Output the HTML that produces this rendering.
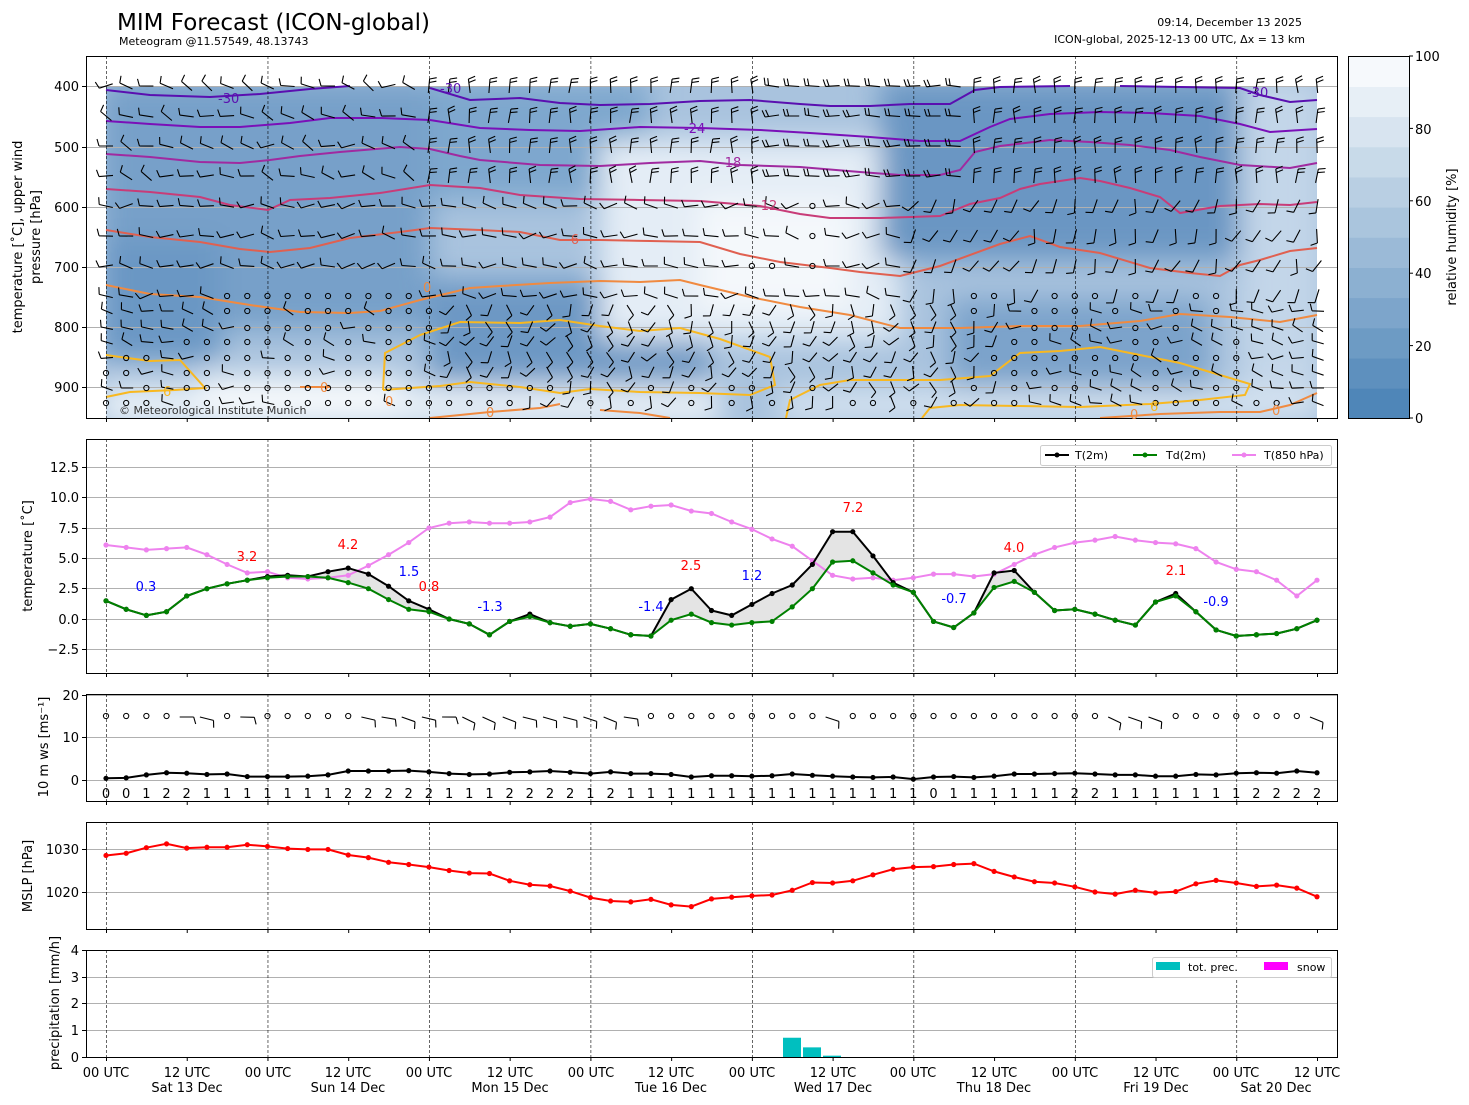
<!DOCTYPE html>
<html><head><meta charset="utf-8"><style>
body{margin:0;background:#fff;}
svg{display:block;font-family:"DejaVu Sans","Liberation Sans",sans-serif;}
</style></head><body>
<svg id="s" width="1469" height="1105" viewBox="0 0 1469 1105" xmlns="http://www.w3.org/2000/svg">
<defs>
<filter id="bl" x="-20%" y="-20%" width="140%" height="140%"><feGaussianBlur stdDeviation="14"/></filter>
<clipPath id="c1"><rect x="106" y="86" width="1211" height="332"/></clipPath>
</defs>
<rect width="1469" height="1105" fill="#fff"/>
<g clip-path="url(#c1)">
<rect x="106" y="86" width="1211" height="332" fill="#a9c3de"/>
<g filter="url(#bl)">
<rect x="100" y="80" width="330" height="250" fill="#77a0c9"/>
<rect x="100" y="240" width="120" height="120" fill="#6b97c4"/>
<rect x="430" y="280" width="280" height="110" fill="#6d98c4"/>
<rect x="430" y="80" width="220" height="120" fill="#7ea7ce"/>
<rect x="600" y="140" width="300" height="200" fill="#e4edf6"/>
<rect x="700" y="200" width="150" height="110" fill="#f4f8fb"/>
<rect x="880" y="80" width="380" height="180" fill="#6a96c3"/>
<rect x="950" y="300" width="260" height="100" fill="#7ba3cb"/>
<rect x="100" y="385" width="620" height="40" fill="#e8f0f7"/>
<rect x="200" y="375" width="200" height="50" fill="#f4f8fb"/>
<rect x="1240" y="80" width="80" height="340" fill="#c3d6e9"/>
<rect x="780" y="390" width="540" height="30" fill="#d7e4f1"/>
</g>
</g>
<g id="grid1" stroke="#b0b0b0" stroke-width="1"></g>
<g id="top"></g>
<g id="rest"></g>
<g fill="none" stroke="#000" stroke-width="1">
<rect x="86.5" y="56.5" width="1251" height="362"/>
<rect x="86.5" y="439.5" width="1251" height="234"/>
<rect x="86.5" y="694.5" width="1251" height="107"/>
<rect x="86.5" y="822.5" width="1251" height="107"/>
<rect x="86.5" y="950.5" width="1251" height="107"/>
</g>
<g id="cb"></g>
<rect x="1348.5" y="56.5" width="61" height="362" fill="none" stroke="#000"/>
<text x="117" y="30" font-size="23">MIM Forecast (ICON-global)</text>
<text x="119" y="45" font-size="11">Meteogram @11.57549, 48.13743</text>
<text x="1302" y="26" font-size="11" text-anchor="end">09:14, December 13 2025</text>
<text x="1305" y="43" font-size="11" text-anchor="end">ICON-global, 2025-12-13 00 UTC, Δx = 13 km</text>
<text x="119" y="414" font-size="11" fill="#333">© Meteorological Institute Munich</text>
<g font-size="13" text-anchor="middle">
<text transform="translate(22,237) rotate(-90)">temperature [˚C], upper wind</text>
<text transform="translate(40,237) rotate(-90)">pressure [hPa]</text>
<text transform="translate(32,556) rotate(-90)">temperature [˚C]</text>
<text transform="translate(48,747) rotate(-90)">10 m ws [ms⁻¹]</text>
<text transform="translate(32,876) rotate(-90)">MSLP [hPa]</text>
<text transform="translate(59,1003) rotate(-90)">precipitation [mm/h]</text>
<text transform="translate(1456,237) rotate(-90)">relative humidity [%]</text>
</g>
<g font-size="13" text-anchor="end">
<text x="79" y="91">400</text><text x="79" y="152">500</text><text x="79" y="212">600</text><text x="79" y="272">700</text><text x="79" y="332">800</text><text x="79" y="392">900</text>
<text x="79" y="472">12.5</text><text x="79" y="502">10.0</text><text x="79" y="533">7.5</text><text x="79" y="563">5.0</text><text x="79" y="593">2.5</text><text x="79" y="624">0.0</text><text x="79" y="654">−2.5</text>
<text x="79" y="700">20</text><text x="79" y="742">10</text><text x="79" y="785">0</text>
<text x="79" y="854">1030</text><text x="79" y="897">1020</text>
<text x="79" y="955">4</text><text x="79" y="982">3</text><text x="79" y="1008">2</text><text x="79" y="1035">1</text><text x="79" y="1062">0</text>
</g>
<g font-size="13">
<text x="1415" y="61">100</text><text x="1415" y="134">80</text><text x="1415" y="206">60</text><text x="1415" y="278">40</text><text x="1415" y="351">20</text><text x="1415" y="423">0</text>
</g>
<g font-size="13">
<text x="218" y="103" fill="#5a0fb0">-30</text><text x="440" y="93" fill="#5a0fb0">-30</text><text x="1247" y="97" fill="#5a0fb0">-30</text>
<text x="684" y="133" fill="#7a10b8">-24</text>
<text x="720" y="167" fill="#a02aa0">-18</text>
<text x="756" y="210" fill="#c83c78">-12</text>
<text x="566" y="244" fill="#e06050">-6</text>
<text x="423" y="292" fill="#f08a40">0</text>
<text x="320" y="392" fill="#f08a40">0</text><text x="385" y="406" fill="#f08a40">0</text><text x="486" y="417" fill="#f08a40">0</text><text x="1130" y="419" fill="#f08a40">0</text><text x="1272" y="415" fill="#f08a40">0</text>
<text x="163" y="396" fill="#f8b820">6</text><text x="1150" y="411" fill="#f8b820">6</text>
</g>
<g font-size="13" text-anchor="middle">
<text x="146" y="591" fill="blue">0.3</text><text x="247" y="561" fill="red">3.2</text><text x="348" y="549" fill="red">4.2</text>
<text x="409" y="576" fill="blue">1.5</text><text x="429" y="591" fill="red">0.8</text><text x="490" y="611" fill="blue">-1.3</text>
<text x="651" y="611" fill="blue">-1.4</text><text x="691" y="570" fill="red">2.5</text><text x="752" y="580" fill="blue">1.2</text>
<text x="853" y="512" fill="red">7.2</text><text x="954" y="603" fill="blue">-0.7</text><text x="1014" y="552" fill="red">4.0</text>
<text x="1176" y="575" fill="red">2.1</text><text x="1216" y="606" fill="blue">-0.9</text>
</g>
<text font-size="13" text-anchor="middle" y="798" id="wd">0012211111112222211122221211111111111111101111112211111112222</text>
<g font-size="11">
<rect x="1040.5" y="445.5" width="291" height="20" fill="#fff" stroke="#ccc" rx="2"/>
<line x1="1045" y1="455" x2="1069" y2="455" stroke="#000" stroke-width="2"/><circle cx="1057" cy="455" r="2.5"/>
<text x="1075" y="459">T(2m)</text>
<line x1="1133" y1="455" x2="1157" y2="455" stroke="green" stroke-width="2"/><circle cx="1145" cy="455" r="2.5" fill="green"/>
<text x="1166" y="459">Td(2m)</text>
<line x1="1232" y1="455" x2="1256" y2="455" stroke="violet" stroke-width="2"/><circle cx="1244" cy="455" r="2.5" fill="violet"/>
<text x="1264" y="459">T(850 hPa)</text>
<rect x="1152.5" y="957.5" width="179" height="20" fill="#fff" stroke="#ccc" rx="2"/>
<rect x="1156" y="962" width="24" height="8" fill="#00bfbf"/><text x="1188" y="971">tot. prec.</text>
<rect x="1264" y="962" width="24" height="8" fill="#ff00ff"/><text x="1297" y="971">snow</text>
</g>
<g font-size="13" text-anchor="middle">
<text x="106" y="1077">00 UTC</text><text x="187" y="1077">12 UTC</text><text x="268" y="1077">00 UTC</text><text x="348" y="1077">12 UTC</text>
<text x="429" y="1077">00 UTC</text><text x="510" y="1077">12 UTC</text><text x="591" y="1077">00 UTC</text><text x="671" y="1077">12 UTC</text>
<text x="752" y="1077">00 UTC</text><text x="833" y="1077">12 UTC</text><text x="913" y="1077">00 UTC</text><text x="994" y="1077">12 UTC</text>
<text x="1075" y="1077">00 UTC</text><text x="1156" y="1077">12 UTC</text><text x="1236" y="1077">00 UTC</text><text x="1317" y="1077">12 UTC</text>
<text x="187" y="1092">Sat 13 Dec</text><text x="348" y="1092">Sun 14 Dec</text><text x="510" y="1092">Mon 15 Dec</text><text x="671" y="1092">Tue 16 Dec</text>
<text x="833" y="1092">Wed 17 Dec</text><text x="994" y="1092">Thu 18 Dec</text><text x="1156" y="1092">Fri 19 Dec</text><text x="1276" y="1092">Sat 20 Dec</text>
</g>
</svg>
<script>
(function(){
const NS="http://www.w3.org/2000/svg";
const gtop=document.getElementById('top'), rest=document.getElementById('rest');
function el(p,t,a){const e=document.createElementNS(NS,t);for(const k in a)e.setAttribute(k,a[k]);p.appendChild(e);return e;}
const X=i=>106+i*20.1833;
let xs=[];for(let i=0;i<61;i++)xs.push(X(i).toFixed(1));
const wd=document.getElementById('wd');wd.textContent=wd.textContent.slice(0,61);wd.setAttribute('x',xs.join(' '));
const cb=document.getElementById('cb');
const c0=[79,134,184],c1=[246,249,252];
for(let k=0;k<12;k++){const t=k/11;const c=c0.map((v,j)=>Math.round(v+(c1[j]-v)*t));
 el(cb,'rect',{x:1349,y:(418-(k+1)*30.17).toFixed(1),width:60,height:31,fill:'rgb('+c.join(',')+')'});}
[0,20,40,60,80,100].forEach(v=>{const y=418-v*3.62;el(cb,'line',{x1:1409,x2:1413,y1:y,y2:y,stroke:'#000'});});
const g1=document.getElementById('grid1');
[86,147,207,267,327,387].forEach(y=>el(g1,'line',{x1:86,x2:1337,y1:y+.5,y2:y+.5}));
const panels=[[56,418],[439,673],[694,801],[822,929],[950,1057]];
[467,497,528,558,588,619,649,695,737,780,849,892,977,1003,1030].forEach(y=>el(rest,'line',{x1:87,x2:1337,y1:y+.5,y2:y+.5,stroke:'#b0b0b0'}));
panels.forEach(([a,b])=>{
 for(let k=0;k<8;k++){const x=X(k*8)+.5;el(rest,'line',{x1:x,x2:x,y1:a,y2:b,stroke:'#000','stroke-width':0.6,'stroke-dasharray':'3,2'});}
 for(let k=0;k<16;k++){const x=X(k*4)+.5;el(rest,'line',{x1:x,x2:x,y1:b,y2:b+4,stroke:'#000'});}
});
[[86,147,207,267,327,387],[467,497,528,558,588,619,649],[695,737,780],[849,892],[950,977,1003,1030,1057]].forEach(a=>a.forEach(y=>el(rest,'line',{x1:82,x2:86,y1:y+.5,y2:y+.5,stroke:'#000'})));
const C=[
['#5a0fb0',[[106,90],[150,95],[210,97],[260,94],[310,89],[350,86]]],
['#5a0fb0',[[430,88],[470,100],[520,98],[560,103],[600,105],[650,104],[700,101],[750,100],[800,104],[830,106],[870,106],[910,104],[950,104],[975,90],[1000,87],[1070,86]]],
['#5a0fb0',[[1120,86],[1240,88],[1260,95],[1290,102],[1317,100]]],
['#7a10b8',[[106,121],[150,124],[200,127],[240,127],[290,123],[330,118],[380,118],[430,120],[480,128],[530,130],[580,131],[640,127],[700,128],[760,130],[810,133],[870,137],[920,141],[960,141],[990,127],[1010,119],[1050,114],[1100,112],[1150,113],[1200,116],[1240,124],[1270,132],[1317,129]]],
['#a02aa0',[[106,154],[150,157],[200,162],[240,163],[270,160],[300,156],[340,152],[400,147],[430,149],[460,156],[480,160],[540,165],[600,166],[650,163],[700,161],[740,165],[800,167],[860,172],[900,175],[940,175],[960,170],[975,152],[1000,146],[1050,140],[1090,142],[1130,145],[1170,150],[1200,157],[1240,165],[1290,168],[1317,163]]],
['#c83c78',[[106,189],[150,192],[200,197],[230,205],[268,210],[290,200],[330,198],[380,193],[430,185],[480,188],[520,195],[580,199],[640,200],[700,201],[760,206],[800,214],[830,218],[880,218],[940,216],[970,204],[1000,198],[1020,189],[1040,184],[1080,178],[1100,181],[1130,188],[1160,197],[1180,213],[1220,206],[1260,204],[1290,205],[1317,202]]],
['#e06050',[[106,230],[150,237],[200,242],[240,249],[270,252],[310,248],[350,238],[400,232],[430,228],[480,230],[520,232],[560,240],[600,240],[650,241],[700,242],[740,254],[780,262],[830,268],[860,272],[900,276],[940,266],[1000,244],[1030,236],[1060,247],[1100,253],[1150,268],[1190,273],[1220,276],[1240,265],[1260,260],[1290,251],[1317,248]]],
['#f08a40',[[106,285],[150,294],[200,297],[250,305],[300,312],[350,313],[380,311],[420,300],[470,288],[500,286],[550,283],[600,281],[640,282],[680,280],[700,285],[750,297],[800,307],[850,315],[900,328],[960,328],[1020,326],[1080,326],[1140,321],[1180,314],[1230,317],[1280,322],[1317,315]]],
['#f8b820',[[383,390],[385,353],[420,335],[460,322],[520,323],[560,320],[600,326],[640,331],[680,328],[720,339],[770,357],[775,385],[750,395],[700,393],[640,392],[590,389],[560,393],[520,387],[470,382],[440,386],[410,388],[383,390]]],
['#f8b820',[[106,355],[120,357],[150,361],[180,360],[205,388],[175,390],[130,392],[106,397]]],
['#f8b820',[[786,418],[790,400],[820,385],[850,380],[940,380],[990,376],[1020,353],[1060,351],[1100,347],[1140,355],[1180,363],[1220,375],[1250,384],[1245,395],[1200,400],[1150,404],[1080,407],[1020,406],[960,405],[930,408],[922,418]]],
['#f08a40',[[600,410],[640,413],[670,418]]],['#f08a40',[[430,418],[490,412],[540,408],[560,404]]],
['#f08a40',[[1100,418],[1160,414],[1220,412],[1260,412],[1290,405],[1317,393]]],
['#f08a40',[[300,387],[330,387]]]
];
C.forEach(([c,p])=>el(gtop,'polyline',{points:p.map(q=>q.join(',')).join(' '),fill:'none',stroke:c,'stroke-width':2}));
let seed=7;const rnd=()=>{seed=(seed*16807)%2147483647;return seed/2147483647;};
const rows=[86,116,146,176,206,236,266,296,311,328,342,358,373,388,403];
function barb(g,x,y,ang,len,n){const dx=Math.cos(ang),dy=Math.sin(ang);
 const x2=x+dx*len,y2=y+dy*len;let d='M'+x.toFixed(1)+','+y.toFixed(1)+'L'+x2.toFixed(1)+','+y2.toFixed(1);
 for(let k=0;k<n;k++){const bx=x2-dx*k*3.5,by=y2-dy*k*3.5;const px=bx+(-dy*7+dx*2),py=by+(dx*7+dy*2);d+='M'+bx.toFixed(1)+','+by.toFixed(1)+'L'+px.toFixed(1)+','+py.toFixed(1);}
 el(g,'path',{d:d,stroke:'#000','stroke-width':1.1,fill:'none'});}
function calm(g,x,y){el(g,'circle',{cx:x,cy:y,r:2.6,fill:'none',stroke:'#000','stroke-width':1});}
for(let i=0;i<61;i++){const x=X(i);
 rows.forEach((y)=>{
  let isCalm=false;
  if(y>=296&&x>=190&&x<430&&rnd()<0.8)isCalm=true;
  if(y>=340&&x<200&&rnd()<0.5)isCalm=true;
  if(y>=388&&x>=430&&x<880&&rnd()<0.6)isCalm=true;
  if(y>=206&&y<=266&&x>=740&&x<820&&rnd()<0.6)isCalm=true;
  if(y>=296&&x>=960&&x<1240&&rnd()<0.45)isCalm=true;
  if(y>=400&&x>=880&&rnd()<0.6)isCalm=true;
  if(isCalm){calm(gtop,x,y);return;}
  let ang,len=14,n=1;
  if(y<=200){ if(x<420){ang=Math.PI*(0.9+rnd()*0.35);} else if(x<760||x>1240){ang=-Math.PI*0.5+(rnd()-.5)*0.4;n=2;} else if(x<960){ang=Math.PI*(0.95+rnd()*0.1);n=2;} else {ang=-Math.PI*0.5+(rnd()-.5)*0.3;n=2;} }
  else if(y<=296){ang=Math.PI*(0.85+rnd()*0.3)+(x>900?-1.2:0);}
  else {ang=(x>430&&x<1000)?Math.PI*(0.3+rnd()*0.5):Math.PI*(0.9+rnd()*0.3);len=12;}
  barb(gtop,x-Math.cos(ang)*7,y-Math.sin(ang)*7,ang,len,n);
 });
}
const sw="oooobbobooooobbbbbbbbbbbbbbooooooooobooooooooooooobbbooooooobbbbbb";
for(let i=0;i<61;i++){const x=X(i),y=716; if(sw[i]==='b'){const a=Math.PI*(1.0+rnd()*0.15);barb(rest,x-7,y+1,a+Math.PI,14,1);} else calm(rest,x,y);}
const T=[1.5,0.8,0.3,0.6,1.9,2.5,2.9,3.2,3.5,3.6,3.5,3.9,4.2,3.7,2.7,1.5,0.8,0.0,-0.4,-1.3,-0.2,0.4,-0.3,-0.6,-0.4,-0.8,-1.3,-1.4,1.6,2.5,0.7,0.3,1.2,2.1,2.8,4.5,7.2,7.2,5.2,3.0,2.2,-0.2,-0.7,0.5,3.8,4.0,2.2,0.7,0.8,0.4,-0.1,-0.5,1.4,2.1,0.6,-0.9,-1.4,-1.3,-1.2,-0.8,-0.1];
const Td=T.slice();
const tdo={8:3.4,9:3.5,10:3.5,11:3.4,12:3.0,13:2.5,14:1.6,15:0.8,16:0.6,21:0.2,28:-0.1,29:0.4,30:-0.3,31:-0.5,32:-0.3,33:-0.2,34:1.0,35:2.5,36:4.7,37:4.8,38:3.8,39:2.8,44:2.6,45:3.1,53:1.9};
for(const k in tdo)Td[k]=tdo[k];
const P=[6.1,5.9,5.7,5.8,5.9,5.3,4.5,3.8,3.9,3.4,3.3,3.4,3.6,4.4,5.3,6.3,7.5,7.9,8.0,7.9,7.9,8.0,8.4,9.6,9.9,9.7,9.0,9.3,9.4,8.9,8.7,8.0,7.4,6.6,6.0,4.8,3.6,3.3,3.4,3.2,3.4,3.7,3.7,3.5,3.7,4.5,5.3,5.9,6.3,6.5,6.8,6.5,6.3,6.2,5.8,4.7,4.1,3.9,3.2,1.9,2.9];
P[60]=3.2; P.length=61;
const ty=v=>619-12.13*v;
let pts=T.map((v,i)=>X(i)+','+ty(v));
for(let i=60;i>=0;i--)pts.push(X(i)+','+ty(Td[i]));
el(rest,'polygon',{points:pts.join(' '),fill:'#e4e4e4',stroke:'none'});
function line(vals,f,col){el(rest,'polyline',{points:vals.map((v,i)=>X(i).toFixed(1)+','+f(v).toFixed(1)).join(' '),fill:'none',stroke:col,'stroke-width':2});
 vals.forEach((v,i)=>el(rest,'circle',{cx:X(i),cy:f(v),r:2.6,fill:col}));}
line(P,ty,'violet');line(T,ty,'#000');line(Td,ty,'green');
const W=[0.4,0.5,1.2,1.7,1.6,1.3,1.4,0.8,0.8,0.8,0.9,1.2,2.1,2.1,2.1,2.2,1.9,1.5,1.3,1.4,1.8,1.9,2.1,1.8,1.5,1.9,1.5,1.5,1.3,0.7,1.0,1.0,0.9,1.0,1.4,1.1,0.9,0.7,0.6,0.7,0.2,0.7,0.8,0.6,0.9,1.4,1.4,1.5,1.6,1.4,1.2,1.2,0.9,0.9,1.3,1.2,1.6,1.7,1.6,2.1,1.7];
line(W,v=>780-4.27*v,'#000');
const M=[1028.5,1029,1030.3,1031.2,1030.2,1030.4,1030.4,1031,1030.6,1030.1,1029.9,1029.9,1028.6,1028,1026.9,1026.4,1025.8,1025,1024.4,1024.3,1022.6,1021.7,1021.4,1020.2,1018.7,1017.9,1017.7,1018.3,1017,1016.6,1018.4,1018.8,1019.1,1019.3,1020.4,1022.2,1022.1,1022.6,1024,1025.3,1025.8,1025.9,1026.4,1026.6,1024.8,1023.5,1022.4,1022.1,1021.2,1020,1019.5,1020.4,1019.8,1020.1,1021.9,1022.7,1022.1,1021.3,1021.6,1020.9,1018.9];
line(M,v=>892-(v-1020)*4.3,'red');
[[783,0.72],[803,0.36],[823,0.05]].forEach(([x,v])=>el(rest,'rect',{x:x,y:1057-v*26.75,width:18,height:v*26.75,fill:'#00bfbf'}));
})();
</script>
</body></html>
